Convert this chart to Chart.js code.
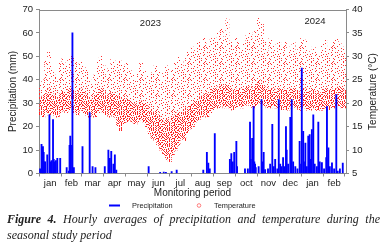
<!DOCTYPE html>
<html>
<head>
<meta charset="utf-8">
<script src="https://cdn.jsdelivr.net/npm/chart.js@4.4.1/dist/chart.umd.min.js"></script>
<style>
html, body { margin: 0; padding: 0; background: #fff; width: 385px; height: 248px; overflow: hidden; }
#wrap { position: absolute; left: 0; top: 0; width: 385px; height: 212px; }
#caption { position: absolute; left: 7px; top: 211px; width: 373px; font: italic 12px/16px "Liberation Serif", "Times New Roman", serif; color: #222; text-align: justify; }
#caption b { font-weight: bold; }
</style>
</head>
<body>
<div id="wrap"><canvas id="chart"></canvas></div>
<div id="caption"><b>Figure 4.</b> Hourly averages of precipitation and temperature during the seasonal study period</div>
<script>
// x axis: days counted from 1 jan 2023
var monthLabels = ['jan', 'feb', 'mar', 'apr', 'may', 'jun', 'jul', 'aug', 'sep', 'oct', 'nov', 'dec', 'jan', 'feb'];
var monthDays = [31, 28, 31, 30, 31, 30, 31, 31, 30, 31, 30, 31, 31, 29];
var yearLabels = ['2023', '2024'];

// precipitation events (day, mm)
var precipDay = [1, 3, 4, 5, 6, 7, 8, 11, 14, 16, 17, 19, 20, 21, 23, 25, 29,
  38, 41, 42, 43, 44, 46, 48,
  60, 70, 74, 78,
  91, 96, 97, 98, 100, 103, 105, 107,
  152, 168, 173, 176, 184, 191,
  228, 233, 235, 237,
  244, 265, 267, 269, 271, 274, 275,
  286, 290, 293, 294, 296, 298, 299, 300,
  301, 305, 309, 310, 312, 314, 318, 321, 324, 326, 328, 331,
  333, 335, 337, 339, 341, 343, 344, 346, 349, 351, 353, 356, 359, 362, 364,
  365, 367, 368, 370, 372, 374, 376, 377, 379, 381, 383, 386, 388, 390, 393,
  396, 399, 400, 402, 404, 407, 410, 413, 415, 418, 422];
var precipMm = [2, 12.5, 10, 11.5, 9, 5, 5, 8, 25, 5, 5.5, 23, 6, 5, 5.5, 6.5, 6.5,
  2.5, 1, 12, 16, 12, 60, 2.5,
  11.5, 26, 3, 2.5,
  3, 10, 6, 6.5, 9.5, 4, 8, 1.5,
  3, 0.5, 0.6, 0.5, 0.8, 1.5,
  1.5, 9, 4.5, 2,
  17, 6, 8.5, 5, 9, 13.7, 3,
  2, 2, 22, 6, 15, 28.6, 5, 4,
  2.5, 3, 31.6, 5, 9, 1.7, 2, 4, 21, 3, 6, 2,
  31.6, 4, 3, 6.8, 3, 20, 10, 4, 24, 31.6, 5, 3, 2, 13.7, 4,
  45, 18, 5, 13, 3, 16, 16.6, 6, 18.7, 25, 4, 3, 22, 5, 4.7,
  2, 6.8, 28.6, 11, 3, 4.6, 2, 33.7, 1, 2, 4.5];

// temperature, one value per 4 days: lowest, top of the dense band, highest
var tempStep = 4;
var tempMax = [24, 25, 29, 31, 27, 26, 25, 28.5,
  29.5, 28, 29.5, 30, 29, 28, 29,
  28, 27, 25, 24, 26, 29.5, 30, 28,
  26, 27.5, 29.5, 29, 28.5, 29, 28,
  28.5, 27, 26, 25, 27, 28.5, 27, 26,
  25.5, 26.5, 28, 27, 25, 26.5, 28, 25,
  27, 28.5, 30, 29, 28, 31, 30,
  32, 31, 33, 32, 34, 32.5, 33.5,
  34, 33, 35, 36, 34, 38, 33, 32,
  34, 33, 31.5, 33, 34.5, 35, 33, 36,
  38.5, 37, 33, 31, 34, 33, 31.5, 33,
  31.5, 33, 30, 32, 33, 31, 32,
  34, 33.5, 31, 30.5, 32, 31, 30, 32.5,
  33.5, 31, 32, 33, 34, 33, 32, 31];
var tempMid = [21, 21.5, 22, 23, 22, 21.5, 21, 22,
  22.5, 22, 23, 23, 22.5, 22, 23,
  22.5, 22, 21, 20.5, 21.5, 22.5, 23, 22.5,
  21.5, 22, 22.5, 22, 21.5, 21, 21,
  21, 20.5, 20, 19.5, 20, 20.5, 20, 19.5,
  18.5, 18, 18.5, 17.5, 16.5, 16, 16.5, 16,
  17, 17.5, 18, 18, 18, 19, 19.5,
  20, 20.5, 21, 21.5, 22, 22, 22.5,
  23, 23, 23.5, 24, 23.5, 24, 23, 22.5,
  23, 23, 22.5, 23, 23.5, 23.5, 23, 24,
  25, 24.5, 23.5, 23, 23, 23, 22.5, 23,
  23, 23, 22.5, 23, 23, 22.5, 22.5,
  23, 23, 22.5, 22.5, 23, 22.5, 22, 22.5,
  23, 22.5, 23, 23, 23, 23.5, 23, 22.5];
var tempMin = [17.5, 17, 18, 17.5, 18, 17.5, 17, 18,
  18.5, 18, 18.5, 19, 18, 17.5, 18.5,
  18, 17.5, 17, 17.5, 17, 18, 18.5, 18,
  17.5, 17, 17.5, 17, 15, 14, 15.5,
  16, 16.5, 16, 15.5, 16, 16.5, 16, 15,
  13.5, 12.5, 12, 11, 10, 9, 8, 7.5,
  9, 10, 11, 12.5, 12, 13.5, 14.5,
  15, 16, 16.5, 17, 17.5, 17, 18,
  18.5, 19, 19, 19.5, 19, 19.5, 19, 18.5,
  19, 19.5, 19, 19.5, 20, 19.5, 19, 19.5,
  20, 20, 19.5, 19, 19, 19.5, 19, 19,
  18.5, 19, 18.5, 19, 19.5, 19, 18.5,
  19, 19, 18.5, 18.5, 19, 18.5, 18.5, 18.5,
  19, 18.5, 19, 19, 19.5, 19.5, 19, 19];

// month boundaries get tick marks, month centres get the labels
var monthStart = [0];
monthDays.forEach(function(d, i) { monthStart.push(monthStart[i] + d); });
var labelAt = {};
var tickValues = monthStart.slice();
monthLabels.forEach(function(m, i) {
  var mid = monthStart[i] + monthDays[i] / 2;
  labelAt[mid] = m;
  tickValues.push(mid);
});
tickValues.sort(function(a, b) { return a - b; });

var canvas = document.getElementById('chart');
var ctx = canvas.getContext('2d');

// speckle texture so the hourly temperature cloud looks like scattered dots
function dotPattern(rows, color) {
  var c = document.createElement('canvas');
  c.width = rows[0].length;
  c.height = rows.length;
  var g = c.getContext('2d');
  g.fillStyle = color;
  rows.forEach(function(r, y) {
    for (var x = 0; x < r.length; x++) {
      if (r[x] === 'x') g.fillRect(x, y, 1, 1);
    }
  });
  return ctx.createPattern(c, 'repeat');
}
var densePat = dotPattern([
  'x..x...x.x..x...',
  '..x..x.....x..x.',
  '.x.....x.x....x.',
  '...x.x.....x...x',
  'x.......x.x..x..',
  '..x.x.x......x..',
  '.x.......x.x...x',
  '....x.x.x.....x.',
  'x.x.........x...',
  '...x..x.x.x....x',
  '.x..x.......x.x.',
  '......x..x.x....',
  'x.x.x.........x.',
  '.....x.x.x.x..x.',
  '..x.........x..x',
  'x...x.x..x......'], '#ff2020');
var sparsePat = dotPattern([
  '.....x......x..x',
  '.......x.x......',
  '..x.........x...',
  '.....x..........',
  '.x.........x...x',
  '........x.......',
  '...x..x.....x...',
  '.x.........x....',
  '.....x.x.......x',
  '..x.............',
  '.......x.x...x..',
  '.....x........x.',
  '...x.....x......',
  '.......x.....x..',
  '.x.....x....x...',
  '...........x..x.'], '#ff3030');

var precipData = precipDay.map(function(d, i) { return { x: d + 0.5, y: precipMm[i] }; });
var bandData = tempMin.map(function(v, i) { return { x: i * tempStep + tempStep / 2, y: [v, tempMid[i]] }; });
var rangeData = tempMin.map(function(v, i) { return { x: i * tempStep + tempStep / 2, y: [v, tempMax[i]] }; });

var axisGrey = '#8a8a8a';
var textCol = '#222';

var decor = {
  id: 'decor',
  afterDraw: function(chart) {
    var c = chart.ctx, a = chart.chartArea, sx = chart.scales.x, sy = chart.scales.y2;
    c.save();
    // top edge of the frame
    c.strokeStyle = axisGrey;
    c.lineWidth = 1;
    c.beginPath();
    c.moveTo(a.left, Math.round(a.top) + 0.5);
    c.lineTo(a.right, Math.round(a.top) + 0.5);
    c.stroke();

    c.fillStyle = textCol;
    c.textAlign = 'center';
    c.textBaseline = 'middle';
    c.font = '9.5px "Liberation Sans", Arial, sans-serif';
    c.fillText(yearLabels[0], sx.getPixelForValue(155), sy.getPixelForValue(37));
    c.fillText(yearLabels[1], sx.getPixelForValue(384), sy.getPixelForValue(37.4));

    // right axis title reads bottom to top
    c.font = '10px "Liberation Sans", Arial, sans-serif';
    c.translate(373.5, (a.top + a.bottom) / 2);
    c.rotate(-Math.PI / 2);
    c.fillText('Temperature (\u00b0C)', 0, 0);
    c.setTransform(1, 0, 0, 1, 0, 0);

    // legend
    var ly = 205.5;
    c.strokeStyle = '#0000ff';
    c.lineWidth = 2;
    c.beginPath();
    c.moveTo(109, ly);
    c.lineTo(120, ly);
    c.stroke();
    c.strokeStyle = '#ff7a7a';
    c.lineWidth = 1;
    c.beginPath();
    c.arc(199, ly, 1.8, 0, Math.PI * 2);
    c.stroke();
    c.fillStyle = textCol;
    c.textAlign = 'left';
    c.font = '7.4px "Liberation Sans", Arial, sans-serif';
    c.fillText('Precipitation', 132, ly);
    c.fillText('Temperature', 214, ly);
    c.restore();
  }
};

Chart.defaults.font.family = '"Liberation Sans", Arial, sans-serif';
Chart.defaults.font.size = 9.5;
Chart.defaults.color = textCol;

new Chart(canvas, {
  type: 'bar',
  data: {
    datasets: [
      { label: 'Precipitation', data: precipData, backgroundColor: '#0000ff', barThickness: 1.2, grouped: false, xAxisID: 'x', yAxisID: 'y' },
      { label: 'Temperature band', data: bandData, backgroundColor: densePat, barThickness: 3.2, grouped: false, xAxisID: 'x', yAxisID: 'y2' },
      { label: 'Temperature', data: rangeData, backgroundColor: sparsePat, barThickness: 3.2, grouped: false, xAxisID: 'x', yAxisID: 'y2' }
    ]
  },
  options: {
    responsive: true,
    maintainAspectRatio: false,
    devicePixelRatio: 1,
    animation: false,
    layout: { padding: { top: 9.5, left: 0, right: 0, bottom: 0 } },
    plugins: { legend: { display: false }, tooltip: { enabled: false } },
    scales: {
      x: {
        type: 'linear',
        position: 'bottom',
        min: 0,
        max: 427,
        offset: false,
        afterBuildTicks: function(scale) {
          scale.ticks = tickValues.map(function(v) { return { value: v }; });
        },
        afterFit: function(scale) { scale.height = 38.5; },
        ticks: {
          autoSkip: false,
          maxRotation: 0,
          padding: 1,
          callback: function(v) { return labelAt[v] || ''; }
        },
        grid: {
          offset: false,
          drawOnChartArea: false,
          tickLength: 3,
          tickColor: function(c) { return c.tick && labelAt[c.tick.value] === undefined ? axisGrey : 'rgba(0,0,0,0)'; }
        },
        border: { color: axisGrey },
        title: { display: true, text: 'Monitoring period', font: { size: 10 }, padding: { top: 0, bottom: 12.5 } }
      },
      y: {
        position: 'left',
        min: 0,
        max: 70,
        afterFit: function(scale) { scale.width = 39; },
        ticks: { stepSize: 10, padding: 3 },
        grid: { drawOnChartArea: false, tickLength: 3, tickColor: axisGrey },
        border: { color: axisGrey },
        title: { display: true, text: 'Precipitation (mm)', font: { size: 10 }, padding: { top: 7.5, bottom: 0 } }
      },
      y2: {
        position: 'right',
        min: 5,
        max: 40,
        afterFit: function(scale) { scale.width = 39; },
        ticks: { stepSize: 5, padding: 3 },
        grid: { drawOnChartArea: false, tickLength: 3, tickColor: axisGrey },
        border: { color: axisGrey }
      }
    }
  },
  plugins: [decor]
});
</script>
</body>
</html>
